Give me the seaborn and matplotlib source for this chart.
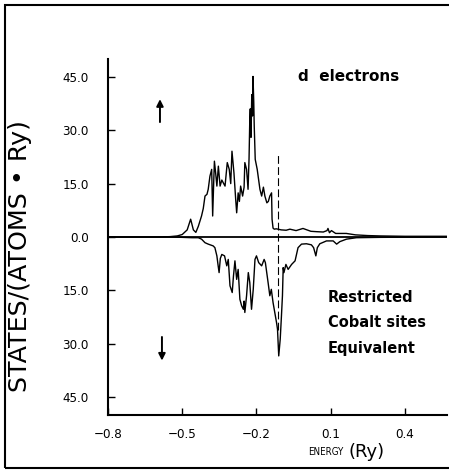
import matplotlib
matplotlib.use("Agg")
import matplotlib.pyplot as plt
import numpy as np
import pandas as pd
import seaborn as sns
from matplotlib.patches import Rectangle

# spin-up d-DOS
energy_up = [-0.80, -0.60, -0.55, -0.52, -0.50, -0.48, -0.466, -0.455, -0.445, -0.435,
             -0.422, -0.415, -0.408, -0.400, -0.395, -0.388, -0.381, -0.377, -0.373, -0.370,
             -0.365, -0.360, -0.354, -0.347, -0.340, -0.334, -0.327, -0.322, -0.318, -0.310,
             -0.304, -0.299, -0.291, -0.284, -0.280, -0.274, -0.269, -0.264, -0.256, -0.250,
             -0.247, -0.240, -0.234, -0.230, -0.227, -0.225, -0.222, -0.219, -0.216, -0.214,
             -0.211, -0.209, -0.205, -0.197, -0.186, -0.179, -0.172, -0.166, -0.158, -0.152,
             -0.146, -0.139, -0.137, -0.133, -0.128, -0.120, -0.100, -0.080, -0.065, -0.040,
             -0.012, 0.020, 0.042, 0.070, 0.085, 0.089, 0.095, 0.103, 0.120, 0.163,
             0.200, 0.250, 0.300, 0.400, 0.570]
dos_up = [0, 0, 0.1, 0.3, 0.7, 2.0, 5.0, 2.0, 1.3, 3.0,
          5.9, 8.0, 11.5, 12.0, 13.4, 17.1, 19.0, 5.9, 15.0, 21.3,
          18.0, 14.3, 19.9, 14.3, 16.0, 15.2, 14.3, 18.0, 20.9, 19.0,
          15.0, 24.1, 18.0, 10.6, 6.8, 12.4, 10.0, 14.3, 11.5, 14.0,
          20.9, 19.0, 13.4, 22.0, 33.0, 36.0, 28.0, 40.0, 34.0, 45.1,
          38.0, 31.1, 21.8, 19.0, 13.4, 11.5, 14.0, 11.5, 9.6, 10.0,
          11.5, 12.4, 5.0, 2.5, 2.2, 2.3, 2.0, 1.9, 2.2, 1.8,
          2.4, 1.6, 1.5, 1.4, 1.8, 2.4, 1.2, 1.8, 1.0, 1.0,
          0.6, 0.4, 0.3, 0.2, 0.2]

# spin-down d-DOS (plotted as negative)
energy_dn = [-0.80, -0.55, -0.50, -0.46, -0.435, -0.422, -0.408, -0.395, -0.375, -0.368,
             -0.360, -0.355, -0.351, -0.346, -0.340, -0.329, -0.320, -0.314, -0.307, -0.298,
             -0.293, -0.287, -0.280, -0.274, -0.267, -0.260, -0.253, -0.250, -0.247, -0.240,
             -0.233, -0.227, -0.220, -0.213, -0.206, -0.200, -0.191, -0.179, -0.169, -0.164,
             -0.153, -0.146, -0.140, -0.133, -0.126, -0.119, -0.115, -0.110, -0.104, -0.099,
             -0.095, -0.092, -0.089, -0.081, -0.072, -0.058, -0.044, -0.032, -0.018, 0.002,
             0.022, 0.031, 0.040, 0.046, 0.056, 0.083, 0.110, 0.124, 0.137, 0.164,
             0.204, 0.300, 0.570]
dos_dn = [0, 0, -0.1, -0.2, -0.2, -0.6, -1.6, -2.0, -2.5, -3.0,
          -5.3, -8.0, -10.0, -6.0, -4.9, -5.3, -8.1, -6.3, -13.7, -15.6,
          -11.0, -6.7, -11.9, -9.1, -17.5, -19.3, -20.3, -18.0, -21.2, -16.5,
          -10.0, -12.8, -20.3, -14.7, -6.3, -5.3, -7.2, -8.1, -6.3, -7.2,
          -12.8, -16.5, -14.7, -18.4, -21.2, -24.0, -25.9, -33.4, -28.7, -22.1,
          -16.5, -8.6, -10.0, -7.7, -9.1, -7.7, -6.7, -3.0, -2.0, -1.9,
          -2.2, -3.0, -5.3, -3.0, -1.9, -1.1, -1.1, -2.0, -1.3, -0.6,
          -0.2, -0.1, 0]

x_ticks = [-0.8, -0.5, -0.2, 0.1, 0.4]
x_tick_labels = ["\u22120.8", "\u22120.5", "\u22120.2", "0.1", "0.4"]
y_ticks = [-45, -30, -15, 0, 15, 30, 45]
y_tick_labels = ["45.0", "30.0", "15.0", "0.0", "15.0", "30.0", "45.0"]
fermi = -0.115

sns.set_style("ticks")
plt.rcParams["font.family"] = ["DejaVu Sans"]
plt.rcParams["font.stretch"] = "condensed"
plt.rcParams["text.color"] = "black"
plt.rcParams["axes.labelcolor"] = "black"

fig = plt.figure(figsize=(4.49, 4.71), dpi=100)
ax = fig.add_axes([108 / 449, 56 / 471, 339 / 449, 356 / 471])

df_up = pd.DataFrame({"energy": energy_up, "dos": dos_up})
df_dn = pd.DataFrame({"energy": energy_dn, "dos": dos_dn})
sns.lineplot(data=df_up, x="energy", y="dos", ax=ax, color="black", lw=1.0,
             sort=False, estimator=None)
sns.lineplot(data=df_dn, x="energy", y="dos", ax=ax, color="black", lw=1.0,
             sort=False, estimator=None)
ax.axhline(0, color="black", lw=1.3)
ax.vlines(fermi, -26, 23, colors="black", lw=0.8, linestyles=(0, (7, 3)))

ax.set_xlim(-0.8, 0.57)
ax.set_ylim(-50, 50)
ax.set_xticks(x_ticks)
ax.set_xticklabels(x_tick_labels)
ax.set_yticks(y_ticks)
ax.set_yticklabels(y_tick_labels)
ax.tick_params(direction="in", length=5, width=1.0, labelsize=9.5, colors="black")
ax.tick_params(axis="x", pad=9)
ax.tick_params(axis="y", pad=14)
for side in ["top", "right"]:
    ax.spines[side].set_visible(False)
for side in ["left", "bottom"]:
    ax.spines[side].set_linewidth(1.5)
    ax.spines[side].set_color("black")

ax.set_xlabel("")
ax.set_ylabel("STATES/(ATOMS \u2022 Ry)", fontsize=18.3, fontstretch="normal", color="black")
ax.yaxis.set_label_coords(-0.224, 0.447)

ax.text(0.643, -0.104, "ENERGY", transform=ax.transAxes, fontsize=7,
        ha="center", va="center", color="black")
ax.text(0.764, -0.104, "(Ry)", transform=ax.transAxes, fontsize=13,
        fontstretch="normal", ha="center", va="center", color="black")

ax.text(0.56, 0.952, "d  electrons", transform=ax.transAxes, fontsize=11,
        fontweight="bold", fontstretch="normal", ha="left", va="center", color="black")
for i, line in enumerate(["Restricted", "Cobalt sites", "Equivalent"]):
    ax.text(0.649, 0.329 - i * 0.0705, line, transform=ax.transAxes, fontsize=10.5,
            fontweight="bold", fontstretch="normal", ha="left", va="center", color="black")

ax.annotate("", xy=(-0.59, 39.5), xytext=(-0.59, 31.5),
            arrowprops=dict(arrowstyle="-|>", color="black", lw=1.4, mutation_scale=10))
ax.annotate("", xy=(-0.582, -35.5), xytext=(-0.582, -27.3),
            arrowprops=dict(arrowstyle="-|>", color="black", lw=1.4, mutation_scale=10))

fig.patches.append(Rectangle((5 / 449, 3 / 471), 1.0, 463 / 471, transform=fig.transFigure,
                             fill=False, edgecolor="black", lw=1.5))

fig.savefig("out.png", dpi=100)
